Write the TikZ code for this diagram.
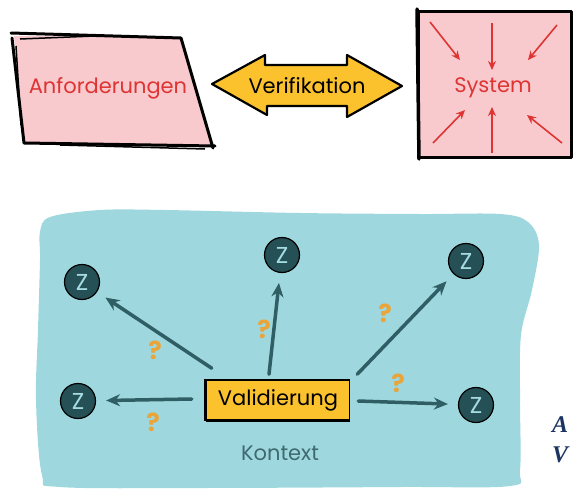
\documentclass[tikz,border=0pt]{standalone}
\usepackage{fontspec}
\setmainfont{Poppins}
\newfontfamily\serifbi{Liberation Serif}
\usepackage{tikz}
\usetikzlibrary{arrows.meta, positioning, calc}
\definecolor{mypink}{RGB}{248,202,205}
\definecolor{myred}{RGB}{222,52,52}
\definecolor{myyellow}{RGB}{251,194,46}
\definecolor{myblob}{RGB}{158,216,222}
\definecolor{mydark}{RGB}{36,80,86}
\definecolor{myteal}{RGB}{47,94,101}
\definecolor{mylight}{RGB}{165,220,226}
\definecolor{myorange}{RGB}{233,164,58}
\definecolor{mygrey}{RGB}{62,106,112}
\definecolor{mynavy}{RGB}{28,52,98}
\newcommand{\skfont}{\fontsize{21}{25}\selectfont}
\tikzset{
  zkreis/.style={circle, draw=black, fill=mydark, minimum size=35pt,
    inner sep=0pt, line width=1.2pt, text=mylight, font=\fontsize{23}{26}\selectfont},
  valblock/.style={rectangle, draw=black, fill=myyellow,
    minimum width=143pt, minimum height=40pt, line width=1.5pt, font=\skfont},
  zarrow/.style={-{Stealth[length=14pt,width=12pt]}, line width=3.5pt,
    color=myteal, line cap=round, shorten >=10pt},
  redarrow/.style={-{Stealth[length=9pt,width=8pt]}, line width=1.6pt, color=myred},
  frage/.style={font=\fontsize{25}{28}\selectfont\bfseries, text=myorange},
  capletter/.style={font=\fontsize{24}{28}\serifbi\bfseries\itshape, text=mynavy,
    anchor=base west, inner sep=0pt},
  sketch/.style={line width=3pt, line cap=round, line join=round}
}

\begin{document}
\begin{tikzpicture}[x=1pt, y=-1pt]
  \useasboundingbox (0,0) rectangle (573,490);

  % Anforderungen
  \fill[mypink] (14,36) -- (180,37) -- (212,146) -- (25,142) -- cycle;
  \draw[sketch] (11,33) -- (181,38) -- (213,148);
  \draw[sketch] (12,38) -- (24,143) -- (215,146);
  \draw[line width=1.5pt] (20,39) -- (95,36);
  \draw[line width=1.5pt] (16,46) -- (21,125);
  \draw[line width=1.5pt] (60,145) -- (205,149);
  \node[font=\skfont, text=myred] (anf) at (108,88) {Anforderungen};

  % Verifikation
  \draw[fill=myyellow, line width=2.2pt, line join=round]
    (212,84) -- (265,55) -- (265,65) -- (347,65) -- (347,55) -- (402,86)
    -- (347,117) -- (347,106) -- (267,106) -- (267,115) -- cycle;
  \node[font=\skfont] (verif) at (307,86) {Verifikation};

  % System
  \fill[mypink] (418,11) rectangle (571,157);
  \draw[sketch] (418,11) rectangle (571,157);
  \draw[line width=3.5pt, line cap=round] (417,9) -- (419,159);
  \node[font=\skfont, text=myred] (sys) at (493,88) {System};
  \foreach \ax/\ay/\bx/\by in {430/22/460/60, 492/23/492/70, 557/25/528/60,
                               433/143/465/110, 492/153/492/107, 562/143/527/115}
    \draw[redarrow] (\ax,\ay) -- (\bx,\by);

  % Kontext
  \fill[myblob] plot[smooth cycle, tension=0.55] coordinates {
    (50,217) (100,210) (165,210) (300,213) (420,214) (500,214) (528,222)
    (539,245) (532,290) (521,335) (520,400) (520,470) (510,486) (400,487)
    (200,488) (60,487) (42,475) (36,400) (38,330) (40,260) (40,232)};
  \node[font=\skfont, text=mygrey, anchor=base] (kontext) at (280,460) {Kontext};

  \node[valblock] (val) at (278,400) {Validierung};
  \draw[line width=3pt] (val.south west) -- (val.south east);
  \draw[line width=3pt] (val.north west) -- (val.south west);

  \node[zkreis] (z1) at (82,282) {Z};
  \node[zkreis] (z2) at (282,255) {Z};
  \node[zkreis] (z3) at (466,261) {Z};
  \node[zkreis] (z4) at (78,401) {Z};
  \node[zkreis] (z5) at (476,405) {Z};

  \draw[zarrow] ($(val.north west)+(6,-11)$) -- (z1);
  \draw[zarrow] ($(val.north)+(-9,-5)$) -- (z2);
  \draw[zarrow] ($(val.north east)+(7,-5)$) -- (z3);
  \draw[zarrow] ($(val.west)+(-14,-1)$) -- (z4);
  \draw[zarrow] ($(val.east)+(8,1)$) -- (z5);

  \node[frage] (f1) at (155,350) {?};
  \node[frage] (f2) at (264,329) {?};
  \node[frage] (f3) at (385,313) {?};
  \node[frage] (f4) at (153,422) {?};
  \node[frage] (f5) at (398,383) {?};

  % caption letters at the right edge
  \node[capletter] (capA) at (552,432) {A};
  \node[capletter] (capV) at (552,462) {V};
\end{tikzpicture}
\end{document}
